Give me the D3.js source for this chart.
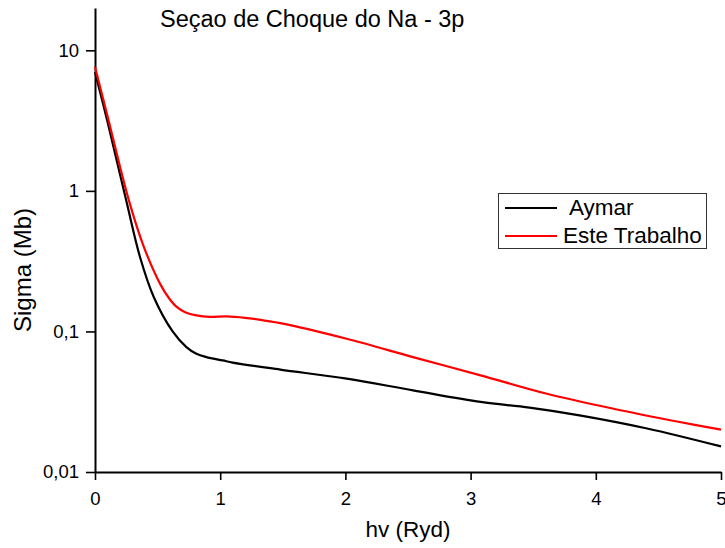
<!DOCTYPE html>
<html>
<head>
<meta charset="utf-8">
<script src="https://cdn.jsdelivr.net/npm/d3@7"></script>
<style>
  html, body { margin: 0; padding: 0; background: #fff; }
  svg { display: block; font-family: "Liberation Sans", Arial, sans-serif; }
</style>
</head>
<body>
<svg id="chart" width="725" height="548"></svg>
<script>
// Photoionization cross section of Na 3p
const chartTitle = "Seçao de Choque do Na - 3p";
const xTitle = "hv (Ryd)";
const yTitle = "Sigma (Mb)";

const seriesNames = ["Aymar", "Este Trabalho"];
const seriesColors = ["#000000", "#ff0000"];

// Aymar
const energyAymar = [0, 0.1, 0.25, 0.36, 0.47, 0.62, 0.73, 0.81, 0.89, 1.02, 1.1, 1.48, 2.01, 2.54, 3.08, 3.47, 3.87, 4.41, 5.0];
const sigmaAymar  = [7.0, 3.1, 0.85, 0.337, 0.175, 0.100, 0.0774, 0.0694, 0.0657, 0.0622, 0.0600, 0.0535, 0.0461, 0.0381, 0.0315, 0.0287, 0.0253, 0.0204, 0.0152];

// Este Trabalho
const energyEste = [0, 0.1, 0.27, 0.39, 0.52, 0.59, 0.65, 0.72, 0.81, 0.92, 1.05, 1.2, 1.37, 1.48, 2.01, 2.54, 3.08, 3.61, 4.14, 4.67, 5.0];
const sigmaEste  = [7.6, 3.4, 0.86, 0.40, 0.218, 0.173, 0.150, 0.137, 0.130, 0.127, 0.128, 0.125, 0.119, 0.1146, 0.0887, 0.0657, 0.0487, 0.0360, 0.0282, 0.0227, 0.0200];

const xTicks = [0, 1, 2, 3, 4, 5];
const xMinorTicks = [0.5, 1.5, 2.5, 3.5, 4.5];
const yTicks = [10, 1, 0.1, 0.01];
const yTickLabels = ["10", "1", "0,1", "0,01"];

const svg = d3.select("#chart");
const plot = { left: 95, right: 721, top: 8, bottom: 472 };

const x = d3.scaleLinear().domain([0, 5]).range([plot.left, plot.right]);
const y = d3.scaleLog().domain([0.01, 20]).range([plot.bottom, plot.top]);

// Minor log ticks: 2..9 of each decade, plus 20
const yMinorTicks = [];
[0.01, 0.1, 1, 10].forEach(d => {
  for (let k = 2; k <= 9; k++) {
    const v = d * k;
    if (v <= 20 && yTicks.indexOf(v) < 0) yMinorTicks.push(v);
  }
});
yMinorTicks.push(20);

// X axis
const gx = svg.append("g").attr("transform", `translate(0,${plot.bottom})`);
gx.call(d3.axisBottom(x).tickValues(xMinorTicks).tickSize(5).tickSizeOuter(0).tickFormat(""));
gx.call(d3.axisBottom(x).tickValues(xTicks).tickSize(8).tickSizeOuter(0).tickPadding(12).tickFormat(d3.format("d")));

// Y axis
const gy = svg.append("g").attr("transform", `translate(${plot.left},0)`);
gy.call(d3.axisLeft(y).tickValues(yMinorTicks).tickSize(5).tickSizeOuter(0).tickFormat(""));
gy.call(d3.axisLeft(y).tickValues(yTicks).tickSize(9).tickSizeOuter(0).tickPadding(7)
  .tickFormat((d, i) => yTickLabels[i]));

[gx, gy].forEach(g => {
  g.selectAll("path.domain").attr("stroke", "#000").attr("stroke-width", 2);
  g.selectAll(".tick line").attr("stroke", "#000").attr("stroke-width", 1.6);
  g.selectAll(".tick text").attr("fill", "#000").style("font-size", "18.5px")
    .style("font-family", "'Liberation Sans', Arial, sans-serif");
});

// Curves
const line = d3.line()
  .x(d => x(d[0]))
  .y(d => y(d[1]))
  .curve(d3.curveCatmullRom.alpha(0.5));

const series = [
  d3.zip(energyAymar, sigmaAymar),
  d3.zip(energyEste, sigmaEste)
];

series.forEach((pts, i) => {
  svg.append("path")
    .datum(pts)
    .attr("d", line)
    .attr("fill", "none")
    .attr("stroke", seriesColors[i])
    .attr("stroke-width", 2.2)
    .attr("stroke-linejoin", "round");
});

// Titles
svg.append("text")
  .attr("x", 160).attr("y", 27)
  .style("font-size", "23.5px")
  .text(chartTitle);

svg.append("text")
  .attr("x", 408).attr("y", 537)
  .attr("text-anchor", "middle")
  .style("font-size", "22.5px")
  .text(xTitle);

svg.append("text")
  .attr("transform", "translate(31,270) rotate(-90)")
  .attr("text-anchor", "middle")
  .style("font-size", "24px")
  .text(yTitle);

// Legend
const legend = svg.append("g");
legend.append("rect")
  .attr("x", 498.5).attr("y", 193.5)
  .attr("width", 208).attr("height", 55)
  .attr("fill", "#fff").attr("stroke", "#333").attr("stroke-width", 1);

const legendRows = [
  { y: 208, textX: 569, base: 215 },
  { y: 236, textX: 563, base: 243 }
];
seriesNames.forEach((name, i) => {
  const r = legendRows[i];
  legend.append("line")
    .attr("x1", 505).attr("x2", 557)
    .attr("y1", r.y).attr("y2", r.y)
    .attr("stroke", seriesColors[i]).attr("stroke-width", 2);
  legend.append("text")
    .attr("x", r.textX).attr("y", r.base)
    .style("font-size", "22.5px")
    .text(name);
});
</script>
</body>
</html>
